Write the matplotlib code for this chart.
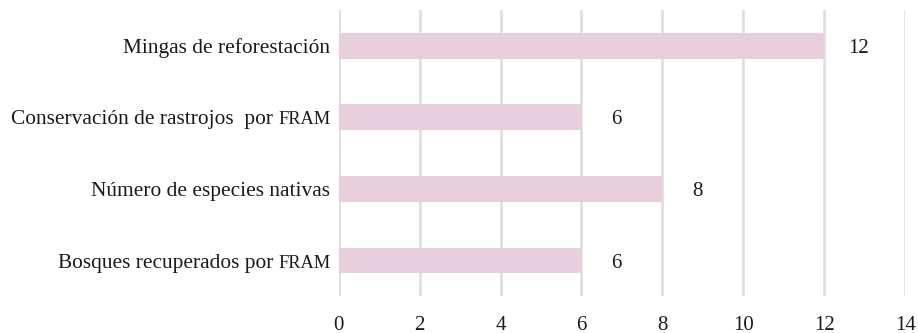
import matplotlib.pyplot as plt

categories = ["Mingas de reforestación",
              "Conservación de rastrojos  por",
              "Número de especies nativas",
              "Bosques recuperados por"]
smallcaps = ["", "FRAM", "", "FRAM"]
values = [12, 6, 8, 6]
xticks = [0, 2, 4, 6, 8, 10, 12, 14]

bar_color = "#e8cedd"
grid_color = "#dcdcdc"
text_color = "#1a1a1a"
font = "Liberation Serif"
fs = 15.4

fig = plt.figure(figsize=(9.18, 3.33), dpi=100)
ax = fig.add_axes([0.369, 0.11, 0.617, 0.86])

pos = list(range(len(categories)))
ax.barh(pos, values, height=0.36, color=bar_color, zorder=2)
ax.set_ylim(3.5, -0.5)
ax.set_xlim(0, 14)
ax.set_xticks(xticks)
ax.set_xticklabels([str(t) for t in xticks], fontfamily=font, fontsize=15, color=text_color)
ax.tick_params(axis="x", length=0, pad=14)
ax.set_yticks([])
ax.grid(axis="x", color=grid_color, linewidth=1.8, zorder=0)
for s in ax.spines.values():
    s.set_visible(False)

renderer = fig.canvas.get_renderer()

# category labels; the small caps piece sits on the same baseline, at a smaller size
for p, name, sc in zip(pos, categories, smallcaps):
    shift = 0
    if sc:
        t = ax.annotate(sc, xy=(0, p), xycoords=("axes fraction", "data"),
                        xytext=(-6, -5), textcoords="offset points",
                        ha="right", va="baseline", fontfamily=font,
                        fontsize=fs * 0.86, color=text_color)
        shift = t.get_window_extent(renderer).width * 72 / fig.dpi + 3.5
    ax.annotate(name, xy=(0, p), xycoords=("axes fraction", "data"),
                xytext=(-6 - shift, -5), textcoords="offset points",
                ha="right", va="baseline", fontfamily=font,
                fontsize=fs, color=text_color)

# value labels to the right of each bar
for p, v in zip(pos, values):
    ax.annotate(str(v), xy=(v, p), xytext=(25, -5), textcoords="offset points",
                ha="center", va="baseline", fontfamily=font, fontsize=15,
                color=text_color)

fig.savefig("out.png", dpi=100)
